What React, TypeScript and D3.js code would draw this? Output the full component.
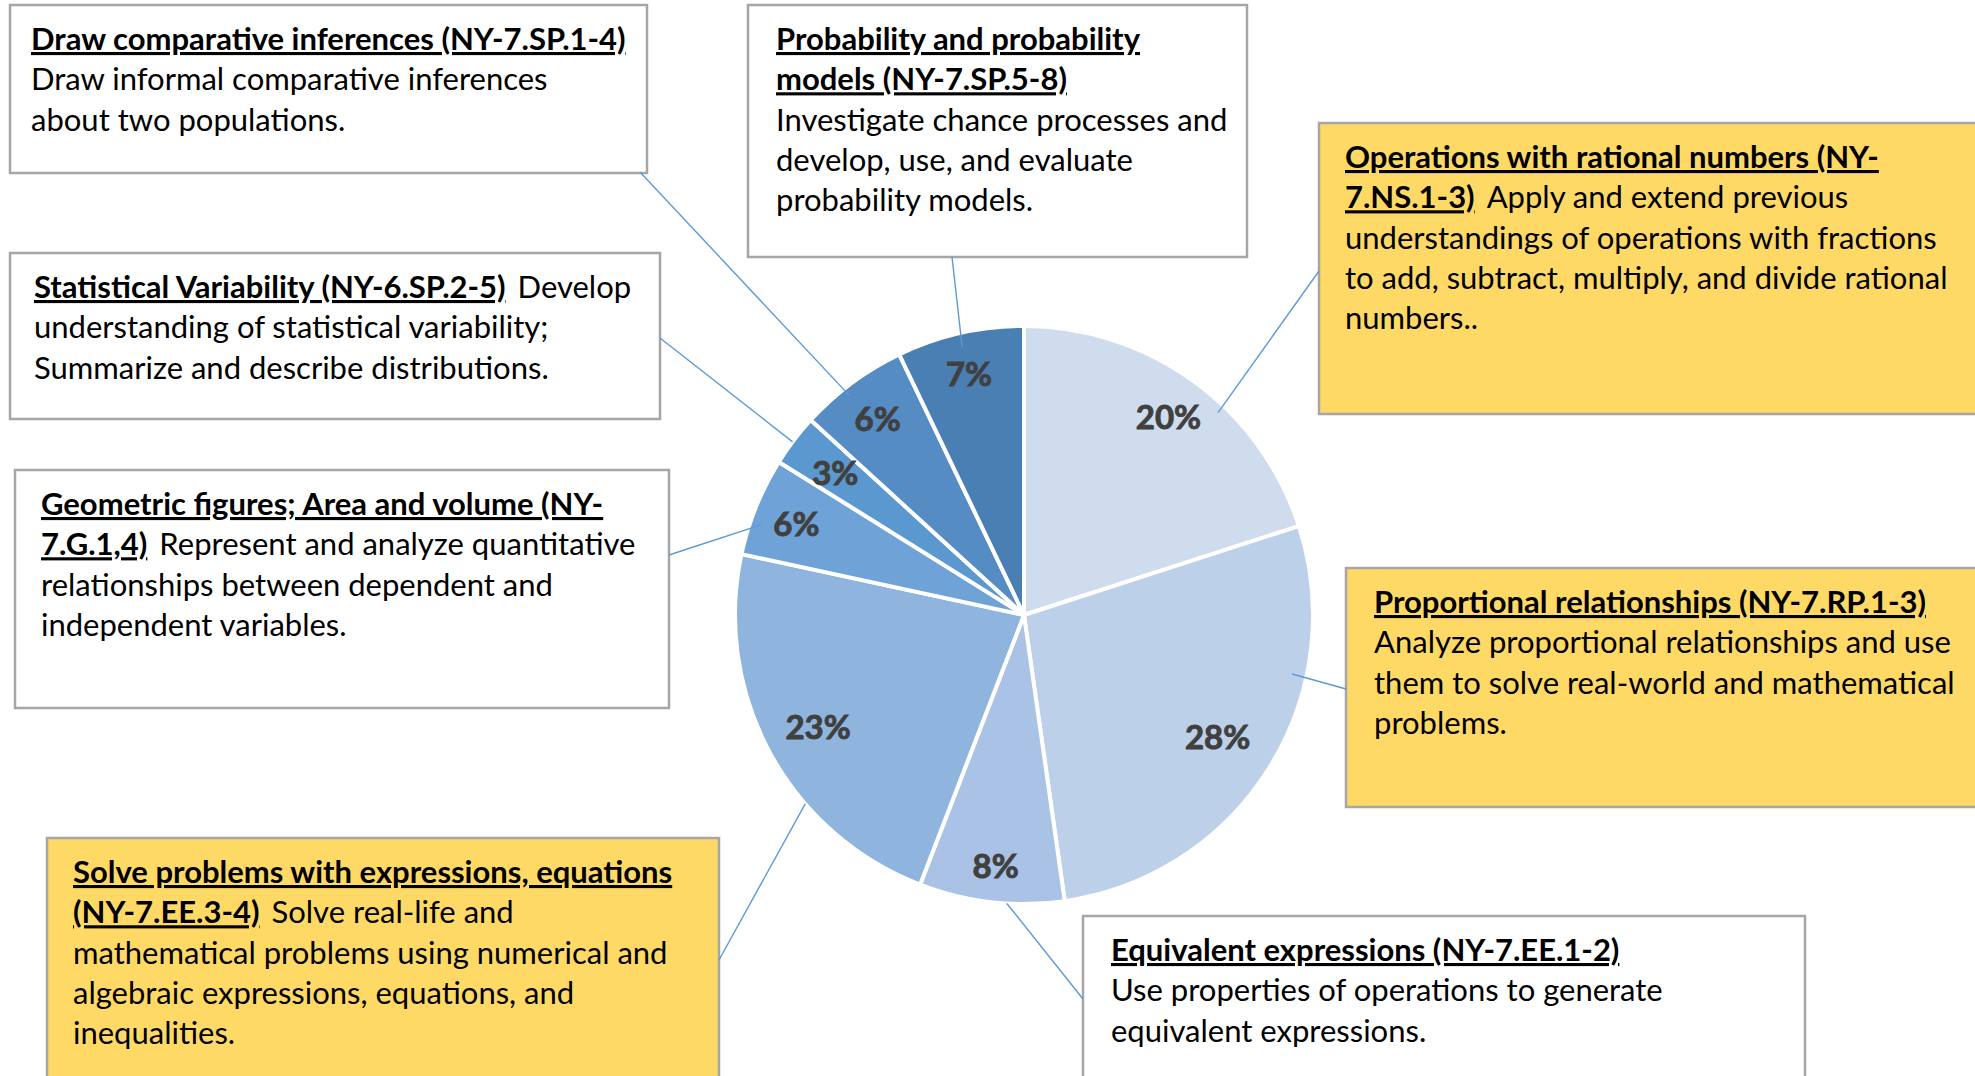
import React from "react";
import * as d3 from "d3";

const W = 1975;
const H = 1076;

// ---------- data ----------
const categories = [
  "Operations with rational numbers",
  "Proportional relationships",
  "Equivalent expressions",
  "Solve problems with expressions, equations",
  "Geometric figures; Area and volume",
  "Statistical Variability",
  "Draw comparative inferences",
  "Probability and probability models",
];
const values = [20, 27.7, 8.1, 22.5, 5.5, 2.9, 6.1, 7.1];
const sliceColors = ["#CFDCEE", "#BDD0E9", "#A9C2E5", "#8FB4DD", "#6FA3D7", "#5A98CF", "#548CC3", "#4A7FB4"];

type Seg = { t: string; b?: boolean };
const calloutText: Seg[][][] = [
  [
    [{ t: "Operations with rational numbers (NY-", b: true }],
    [{ t: "7.NS.1-3)", b: true }, { t: "Apply and extend previous" }],
    [{ t: "understandings of operations with fractions" }],
    [{ t: "to add, subtract, multiply, and divide rational" }],
    [{ t: "numbers.." }],
  ],
  [
    [{ t: "Proportional relationships (NY-7.RP.1-3)", b: true }],
    [{ t: "Analyze proportional relationships and use" }],
    [{ t: "them to solve real-world and mathematical" }],
    [{ t: "problems." }],
  ],
  [
    [{ t: "Equivalent expressions (NY-7.EE.1-2)", b: true }],
    [{ t: "Use properties of operations to generate" }],
    [{ t: "equivalent expressions." }],
  ],
  [
    [{ t: "Solve problems with expressions, equations", b: true }],
    [{ t: "(NY-7.EE.3-4)", b: true }, { t: "Solve real-life and" }],
    [{ t: "mathematical problems using numerical and" }],
    [{ t: "algebraic expressions, equations, and" }],
    [{ t: "inequalities." }],
  ],
  [
    [{ t: "Geometric figures; Area and volume (NY-", b: true }],
    [{ t: "7.G.1,4)", b: true }, { t: "Represent and analyze quantitative" }],
    [{ t: "relationships between dependent and" }],
    [{ t: "independent variables." }],
  ],
  [
    [{ t: "Statistical Variability (NY-6.SP.2-5)", b: true }, { t: "Develop" }],
    [{ t: "understanding of statistical variability;" }],
    [{ t: "Summarize and describe distributions." }],
  ],
  [
    [{ t: "Draw comparative inferences (NY-7.SP.1-4)", b: true }],
    [{ t: "Draw informal comparative inferences" }],
    [{ t: "about two populations." }],
  ],
  [
    [{ t: "Probability and probability", b: true }],
    [{ t: "models (NY-7.SP.5-8)", b: true }],
    [{ t: "Investigate chance processes and" }],
    [{ t: "develop, use, and evaluate" }],
    [{ t: "probability models." }],
  ],
];
const calloutHighlighted = [true, true, false, true, false, false, false, false];

// ---------- layout ----------
const CX = 1024;
const CY = 615;
const R = 289;
const labelRf = [0.85, 0.79, 0.87, 0.81, 0.85, 0.82, 0.85, 0.86];
const boxRects = [
  [1319, 123, 700, 291],
  [1346, 568, 700, 239],
  [1083, 916, 722, 220],
  [47, 838, 672, 280],
  [15, 470, 654, 238],
  [10, 253, 650, 166],
  [10, 5, 637, 168],
  [748, 5, 499, 252],
];
const boxPad = [26, 28, 28, 26, 26, 24, 21, 28];
const leaderOuter = [
  [1319, 271],
  [1346, 689],
  [1083, 999],
  [719, 960],
  [669, 555],
  [660, 338],
  [640, 172],
  [952, 257],
];
const leaderInner = [
  [43.8, 0.97],
  [102.4, 0.95],
  [183.4, 1.0],
  [229.2, 1.0],
  [289, 0.96],
  [306.8, 1.0],
  [321.5, 0.97],
  [347, 0.95],
];
const FONT = "Lato, Carlito, Calibri, sans-serif";
const BODY_SIZE = 31;
const LINE_H = 40.3;
const FIRST_BASE = 45;

export default function App() {
  const total = d3.sum(values);
  const pie = d3.pie<number>().sort(null).value((d) => d);
  const arcs = pie(values);
  const arcGen = d3.arc<d3.PieArcDatum<number>>().innerRadius(0).outerRadius(R);
  const pct = d3.format(".0%");

  return (
    <svg
      width={W}
      height={H}
      style={{ position: "absolute", left: 0, top: 0, display: "block", background: "#fff" }}
      fontFamily={FONT}
    >
      {/* callout boxes */}
      {categories.map((c, i) => {
        const [x, y, w, h] = boxRects[i];
        return (
          <g key={"box" + i}>
            <rect
              x={x}
              y={y}
              width={w}
              height={h}
              fill={calloutHighlighted[i] ? "#FFD966" : "#FFFFFF"}
              stroke="#A6A6A6"
              strokeWidth={2.5}
            />
            {calloutText[i].map((line, li) => (
              <text
                key={li}
                x={x + boxPad[i]}
                y={y + FIRST_BASE + li * LINE_H}
                fontSize={BODY_SIZE}
                fill="#000"
              >
                {line.map((s, si) => (
                  <tspan
                    key={si}
                    dx={si > 0 ? 12 : 0}
                    fontWeight={s.b ? 700 : 400}
                    style={s.b ? { textDecoration: "underline" } : undefined}
                  >
                    {s.t}
                  </tspan>
                ))}
              </text>
            ))}
          </g>
        );
      })}

      {/* pie */}
      <g transform={`translate(${CX},${CY})`}>
        {arcs.map((a, i) => (
          <path key={i} d={arcGen(a) || ""} fill={sliceColors[i]} stroke="#FFFFFF" strokeWidth={4} strokeLinejoin="round" />
        ))}
      </g>

      {/* leader lines */}
      {categories.map((c, i) => {
        const [deg, rf] = leaderInner[i];
        const rad = (deg * Math.PI) / 180;
        const ix = CX + Math.sin(rad) * R * rf;
        const iy = CY - Math.cos(rad) * R * rf;
        const [ox, oy] = leaderOuter[i];
        return <line key={"ld" + i} x1={ox} y1={oy} x2={ix} y2={iy} stroke="#5B9BD5" strokeWidth={1.4} />;
      })}

      {/* pie labels */}
      <g transform={`translate(${CX},${CY})`}>
        {arcs.map((a, i) => {
          const la = d3.arc<d3.PieArcDatum<number>>().innerRadius(R * labelRf[i]).outerRadius(R * labelRf[i]);
          const [lx, ly] = la.centroid(a);
          return (
            <text
              key={"lb" + i}
              x={lx}
              y={ly}
              textAnchor="middle"
              dominantBaseline="central"
              fontSize={33}
              fontWeight={700}
              fill="#404040"
              stroke="#404040"
              strokeWidth={0.9}
            >
              {pct(a.data / total)}
            </text>
          );
        })}
      </g>
    </svg>
  );
}
